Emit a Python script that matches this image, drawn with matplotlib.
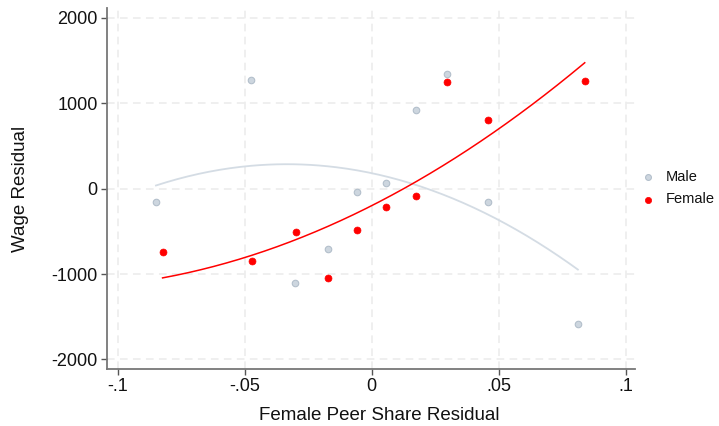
import numpy as np
import matplotlib
matplotlib.use("Agg")
import matplotlib.pyplot as plt

plt.rcParams['font.family'] = ['Liberation Sans', 'DejaVu Sans']

# Binned scatter data
male_x = [-0.0849, -0.0474, -0.0301, -0.0173, -0.0058, 0.0056, 0.0173, 0.0298, 0.0459, 0.0812]
male_y = [-152, 1269, -1108, -710, -42, 70, 925, 1340, -159, -1584]
female_x = [-0.0823, -0.0472, -0.0299, -0.0173, -0.0058, 0.0056, 0.0173, 0.0298, 0.0459, 0.0839]
female_y = [-741, -847, -507, -1049, -484, -218, -89, 1246, 801, 1258]

# Points read along the quadratic fit curves shown in the reference
male_fit_x = [-0.0849, -0.05, -0.0335, 0.0, 0.05, 0.0812]
male_fit_y = [43, 250, 286, 185, -360, -952]
female_fit_x = [-0.0823, -0.05, 0.0, 0.05, 0.0839]
female_fit_y = [-1049, -796, -211, 707, 1472]

xticks = [-0.1, -0.05, 0, 0.05, 0.1]
xticklabels = ['-.1', '-.05', '0', '.05', '.1']
yticks = [-2000, -1000, 0, 1000, 2000]
yticklabels = ['-2000', '-1000', '0', '1000', '2000']

xlabel = 'Female Peer Share Residual'
ylabel = 'Wage Residual'
legend_labels = ['Male', 'Female']

male_fill = '#cdd6df'
male_edge = '#b3bfcb'
male_line = '#d4dce4'
female_col = '#ff0000'

fig = plt.figure(figsize=(7.19, 4.26), dpi=100)
ax = fig.add_axes([0.1484, 0.1331, 0.8832 - 0.1484, 0.9805 - 0.1331])

# grid
for t in xticks:
    ax.axvline(t, color='#ebebeb', lw=1.1, ls=(0, (5, 3.5)), zorder=0)
for t in yticks:
    ax.axhline(t, color='#ebebeb', lw=1.1, ls=(0, (5, 3.5)), zorder=0)

# scatter
hm = ax.scatter(male_x, male_y, s=22, c=male_fill, edgecolors=male_edge, linewidths=0.8, zorder=3)
hf = ax.scatter(female_x, female_y, s=25, c=female_col, edgecolors=female_col, linewidths=0.5, zorder=3)

# quadratic fit curves
cm = np.polyfit(male_fit_x, male_fit_y, 2)
cf = np.polyfit(female_fit_x, female_fit_y, 2)
gm = np.linspace(min(male_fit_x), max(male_fit_x), 200)
gf = np.linspace(min(female_fit_x), max(female_fit_x), 200)
ax.plot(gm, np.polyval(cm, gm), color=male_line, lw=1.3, zorder=2)
ax.plot(gf, np.polyval(cf, gf), color=female_col, lw=1.1, zorder=4)

ax.set_xlim(-0.1043, 0.1037)
ax.set_ylim(-2115, 2112)
ax.set_xticks(xticks)
ax.set_xticklabels(xticklabels)
ax.set_yticks(yticks)
ax.set_yticklabels(yticklabels)

for s in ['top', 'right']:
    ax.spines[s].set_visible(False)
for s in ['left', 'bottom']:
    ax.spines[s].set_color('#777777')
    ax.spines[s].set_linewidth(1.3)
ax.tick_params(axis='both', direction='out', length=4.5, width=1, color='#555555',
               labelsize=13, labelcolor='#111111', pad=2)

ax.set_xlabel(xlabel, fontsize=13.5, color='#111111')
ax.xaxis.set_label_coords(0.515, -0.105)
ax.set_ylabel(ylabel, fontsize=13.5, color='#111111')
ax.yaxis.set_label_coords(-0.148, 0.5)

leg = fig.legend(handles=[hm, hf], labels=legend_labels,
                 loc='center left', bbox_to_anchor=(0.8874, 0.5587), frameon=False,
                 fontsize=10.5, borderpad=0, handletextpad=1.0, labelspacing=0.6,
                 markerscale=0.9, handlelength=0.4, scatterpoints=1)
for t in leg.get_texts():
    t.set_color('#111111')

fig.savefig('out.png', dpi=100)
